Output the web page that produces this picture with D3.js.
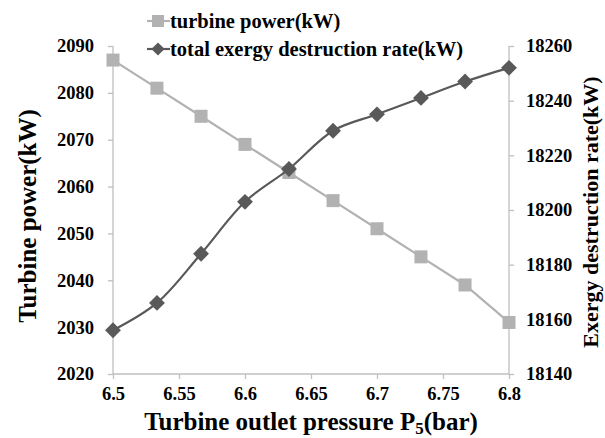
<!DOCTYPE html>
<html>
<head>
<meta charset="utf-8">
<script src="https://cdn.jsdelivr.net/npm/d3@7"></script>
<style>
body{margin:0;background:#fff;}
text{font-family:"Liberation Serif","Times New Roman",serif;font-weight:bold;fill:#000;}
</style>
</head>
<body>
<svg id="chart" width="605" height="438"></svg>
<script>
// data
var pressure=[6.5,6.5333,6.5667,6.6,6.6333,6.6667,6.7,6.7333,6.7667,6.8];
var turbinePower=[2087,2081,2075,2069,2063,2057,2051,2045,2039,2031];
var exergyDestruction=[18156,18166,18184,18203,18215,18229,18235,18241,18247,18252];
var xTicks=[6.5,6.55,6.6,6.65,6.7,6.75,6.8];
var leftTicks=[2020,2030,2040,2050,2060,2070,2080,2090];
var rightTicks=[18140,18160,18180,18200,18220,18240,18260];

var svg=d3.select('#chart');
var plotL=113,plotR=509,plotT=46,plotB=374;
var axisColour='#bfbfbf';
var serif='"Liberation Serif","Times New Roman",serif';

var x=d3.scaleLinear().domain([6.5,6.8]).range([plotL,plotR]);
var yL=d3.scaleLinear().domain([2020,2090]).range([plotB,plotT]);
var yR=d3.scaleLinear().domain([18140,18260]).range([plotB,plotT]);

// axes
var gx=svg.append('g').attr('transform','translate(0,'+plotB+')')
    .call(d3.axisBottom(x).tickValues(xTicks).tickFormat(d=>d).tickSize(5).tickPadding(8));
var gl=svg.append('g').attr('transform','translate('+plotL+',0)')
    .call(d3.axisLeft(yL).tickValues(leftTicks).tickFormat(d=>d).tickSize(5).tickPadding(14));
var gr=svg.append('g').attr('transform','translate('+plotR+',0)')
    .call(d3.axisRight(yR).tickValues(rightTicks).tickFormat(d=>d).tickSize(5).tickPadding(12));
[gx,gl,gr].forEach(function(g){
    g.attr('font-family',serif);
    g.select('.domain').attr('stroke',axisColour).attr('stroke-width',1.3);
    g.selectAll('.tick line').attr('stroke',axisColour).attr('stroke-width',1.3);
    g.selectAll('.tick text').style('font-size','18.5px').style('font-family',serif).attr('fill','#000');
});
gl.select('.domain').attr('d','M0,'+plotT+'V'+plotB);
gr.select('.domain').attr('d','M0,'+plotT+'V'+plotB);
gx.select('.domain').attr('d','M'+plotL+',0H'+plotR);

// turbine power series
var pts=pressure.map((p,i)=>({p:p,v:turbinePower[i]}));
svg.append('path').datum(pts)
    .attr('fill','none').attr('stroke','#b2b2b2').attr('stroke-width',2.2)
    .attr('d',d3.line().x(d=>x(d.p)).y(d=>yL(d.v)));
svg.selectAll('.sq').data(pts).enter().append('rect')
    .attr('x',d=>x(d.p)-6.5).attr('y',d=>yL(d.v)-6.5)
    .attr('width',13).attr('height',13).attr('fill','#b2b2b2');

// exergy series, smoothed like the original
var pts2=pressure.map((p,i)=>({p:p,v:exergyDestruction[i]}));
svg.append('path').datum(pts2)
    .attr('fill','none').attr('stroke','#595959').attr('stroke-width',2.2)
    .attr('d',d3.line().curve(d3.curveCatmullRom.alpha(0.5)).x(d=>x(d.p)).y(d=>yR(d.v)));
var diamond=d3.symbol().type(d3.symbolDiamond2).size(160);
svg.selectAll('.dm').data(pts2).enter().append('path')
    .attr('d',diamond).attr('fill','#595959')
    .attr('transform',d=>'translate('+x(d.p)+','+yR(d.v)+')');

// legend
var lg=svg.append('g');
lg.append('line').attr('x1',147).attr('x2',170).attr('y1',21).attr('y2',21).attr('stroke','#b2b2b2').attr('stroke-width',2.2);
lg.append('rect').attr('x',152).attr('y',15).attr('width',12).attr('height',12).attr('fill','#b2b2b2');
lg.append('text').attr('x',170).attr('y',28).style('font-size','20.5px').text('turbine power(kW)');
lg.append('line').attr('x1',147).attr('x2',170).attr('y1',49).attr('y2',49).attr('stroke','#595959').attr('stroke-width',2.2);
lg.append('path').attr('d',d3.symbol().type(d3.symbolDiamond2).size(110)).attr('fill','#595959').attr('transform','translate(158,49)');
lg.append('text').attr('x',170).attr('y',56).style('font-size','20.5px').text('total exergy destruction rate(kW)');

// axis titles
svg.append('text').attr('transform','translate(36,'+((plotT+plotB)/2+6)+') rotate(-90)')
    .attr('text-anchor','middle').style('font-size','25px').text('Turbine power(kW)');
svg.append('text').attr('transform','translate(598,212) rotate(-90)')
    .attr('text-anchor','middle').style('font-size','22px').text('Exergy destruction rate(kW)');
var xt=svg.append('text').attr('x',(plotL+plotR)/2).attr('y',430)
    .attr('text-anchor','middle').style('font-size','25px');
xt.append('tspan').text('Turbine outlet pressure P');
xt.append('tspan').attr('dy',4).style('font-size','17px').text('5');
xt.append('tspan').attr('dy',-4).text('(bar)');
</script>
</body>
</html>
